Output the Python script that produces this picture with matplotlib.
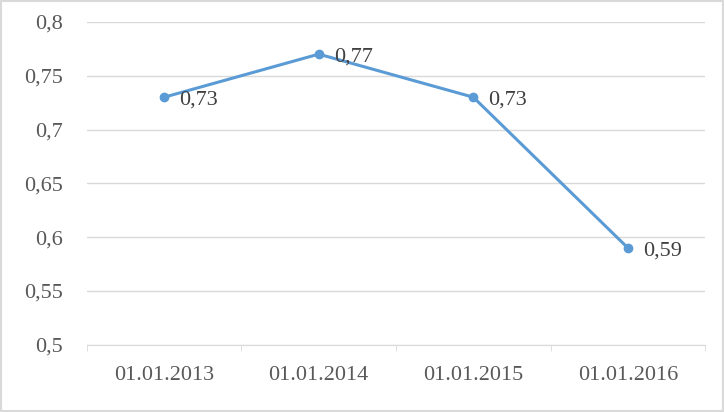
import matplotlib.pyplot as plt
from matplotlib.ticker import FuncFormatter, FixedLocator

categories = ['01.01.2013', '01.01.2014', '01.01.2015', '01.01.2016']
values = [0.73, 0.77, 0.73, 0.59]
value_labels = ['0,73', '0,77', '0,73', '0,59']

plt.rcParams['font.family'] = ['Liberation Serif', 'DejaVu Serif']

fig = plt.figure(figsize=(7.24, 4.12), dpi=100)
ax = fig.add_axes([0.120, 0.163, 0.854, 0.784])

x = list(range(len(categories)))
ax.plot(x, values, color='#5B9BD5', linewidth=2.2, marker='o', markersize=6,
        zorder=3)
for xi, yi, lab in zip(x, values, value_labels):
    ax.annotate(lab, (xi, yi), xytext=(11, -2), textcoords='offset points',
                ha='left', va='center', fontsize=16, color='#404040')

ax.set_xlim(-0.5, len(categories) - 0.5)
ax.set_ylim(0.5, 0.8)
ax.set_yticks([0.5, 0.55, 0.6, 0.65, 0.7, 0.75, 0.8])
ax.yaxis.set_major_formatter(FuncFormatter(lambda v, _: f'{v:.2f}'.rstrip('0').replace('.', ',')))
ax.set_xticks(x)
ax.set_xticklabels(categories)
ax.xaxis.set_minor_locator(FixedLocator([-0.5, 0.5, 1.5, 2.5, 3.5]))

ax.grid(axis='y', color='#D9D9D9', linewidth=1)
ax.set_axisbelow(True)
for s in ['top', 'right', 'left']:
    ax.spines[s].set_visible(False)
ax.spines['bottom'].set_color('#D9D9D9')
ax.tick_params(axis='y', length=0, labelsize=16, labelcolor='#595959', pad=17)
ax.tick_params(axis='x', which='major', length=0, labelsize=16, labelcolor='#595959', pad=15)
ax.tick_params(axis='x', which='minor', length=4, color='#D9D9D9')

fig.patches.append(plt.Rectangle((0.002, 0.003), 0.996, 0.994, transform=fig.transFigure,
                                 fill=False, edgecolor='#D9D9D9', linewidth=1.5))

fig.savefig('out.png', dpi=100)
